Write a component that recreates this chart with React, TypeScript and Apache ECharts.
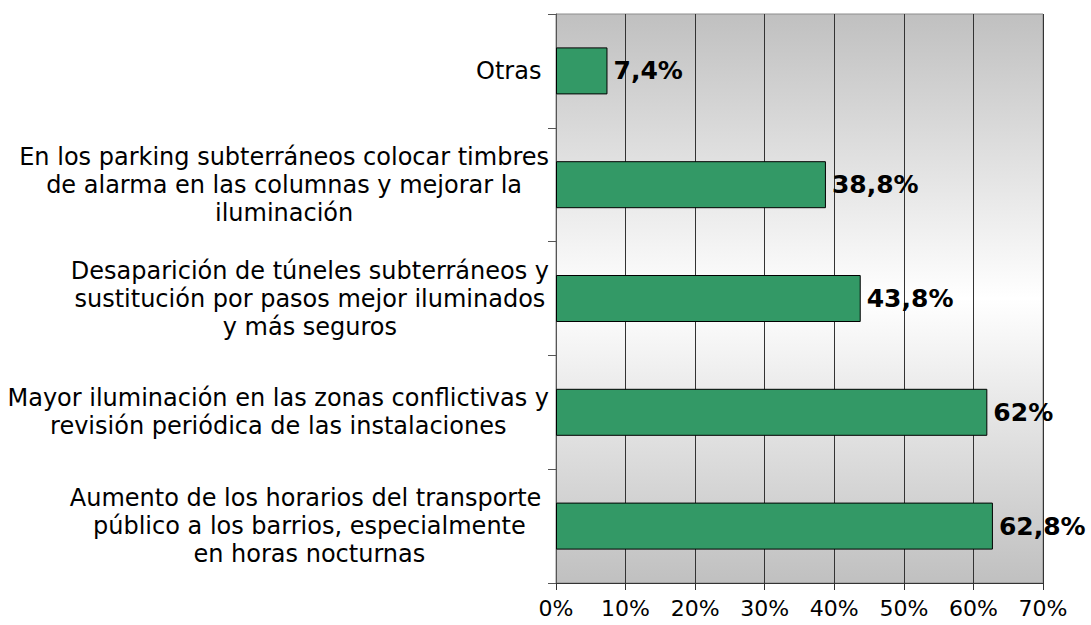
import React, { useEffect, useRef } from "react";
import * as echarts from "echarts";

// Categories listed top to bottom (lines separated by \n)
const categories: string[] = [
  "Otras\u00a0",
  "En los parking subterráneos colocar timbres\nde alarma en las columnas y mejorar la\niluminación",
  "Desaparición de túneles subterráneos y\nsustitución por pasos mejor iluminados\ny más seguros",
  "Mayor iluminación en las zonas conflictivas y\nrevisión periódica de las instalaciones",
  "Aumento de los horarios del transporte\u00a0\npúblico a los barrios, especialmente\nen horas nocturnas",
];

const values: number[] = [7.4, 38.8, 43.8, 62, 62.8];

const xMin = 0;
const xMax = 70;
const xInterval = 10;

const FONT = '"DejaVu Sans", Verdana, sans-serif';

export default function App() {
  const ref = useRef<HTMLDivElement>(null);

  useEffect(() => {
    document.body.style.margin = "0";
    if (!ref.current) return;
    const chart = echarts.init(ref.current, undefined, { renderer: "svg" });
    chart.setOption({
      animation: false,
      backgroundColor: "#ffffff",
      textStyle: { fontFamily: FONT },
      grid: {
        left: 556,
        top: 14,
        width: 487,
        height: 569,
        show: true,
        outerBoundsMode: "none",
        containLabel: false,
        borderColor: "#8c8c8c",
        borderWidth: 1,
        backgroundColor: new echarts.graphic.LinearGradient(0, 0, 0, 1, [
          { offset: 0, color: "#c0c0c0" },
          { offset: 0.5, color: "#ffffff" },
          { offset: 1, color: "#c0c0c0" },
        ]),
      },
      xAxis: {
        type: "value",
        min: xMin,
        max: xMax,
        interval: xInterval,
        axisLine: { show: true, lineStyle: { color: "#333333", width: 1 } },
        axisTick: { show: true, length: 7, lineStyle: { color: "#333333" } },
        axisLabel: {
          formatter: "{value}%",
          fontSize: 22,
          color: "#000000",
          fontFamily: FONT,
          margin: 14,
        },
        splitLine: { show: true, lineStyle: { color: "#333333", width: 1 } },
      },
      yAxis: {
        type: "category",
        inverse: true,
        data: categories,
        axisLine: { show: true, lineStyle: { color: "#555555", width: 1 } },
        axisTick: { show: true, length: 8, lineStyle: { color: "#555555" } },
        splitLine: { show: false },
        axisLabel: {
          margin: 7,
          color: "#000000",
          fontFamily: FONT,
          fontSize: 24,
          lineHeight: 28,
          formatter: (v: string) =>
            v
              .split("\n")
              .map((l) => `{c|${l}}`)
              .join("\n"),
          rich: {
            c: {
              align: "center",
              fontSize: 24,
              lineHeight: 28,
              fontFamily: FONT,
              color: "#000000",
            },
          },
        },
      },
      series: [
        {
          type: "bar",
          data: values,
          barWidth: 47,
          itemStyle: { color: "#339966", borderColor: "#000000", borderWidth: 1 },
          label: {
            show: true,
            position: "right",
            distance: 6,
            fontSize: 25,
            fontWeight: "bold",
            color: "#000000",
            fontFamily: FONT,
            formatter: (p: any) => String(p.value).replace(".", ",") + "%",
          },
        },
      ],
    });
    return () => chart.dispose();
  }, []);

  return <div ref={ref} style={{ width: 1091, height: 625 }} />;
}
